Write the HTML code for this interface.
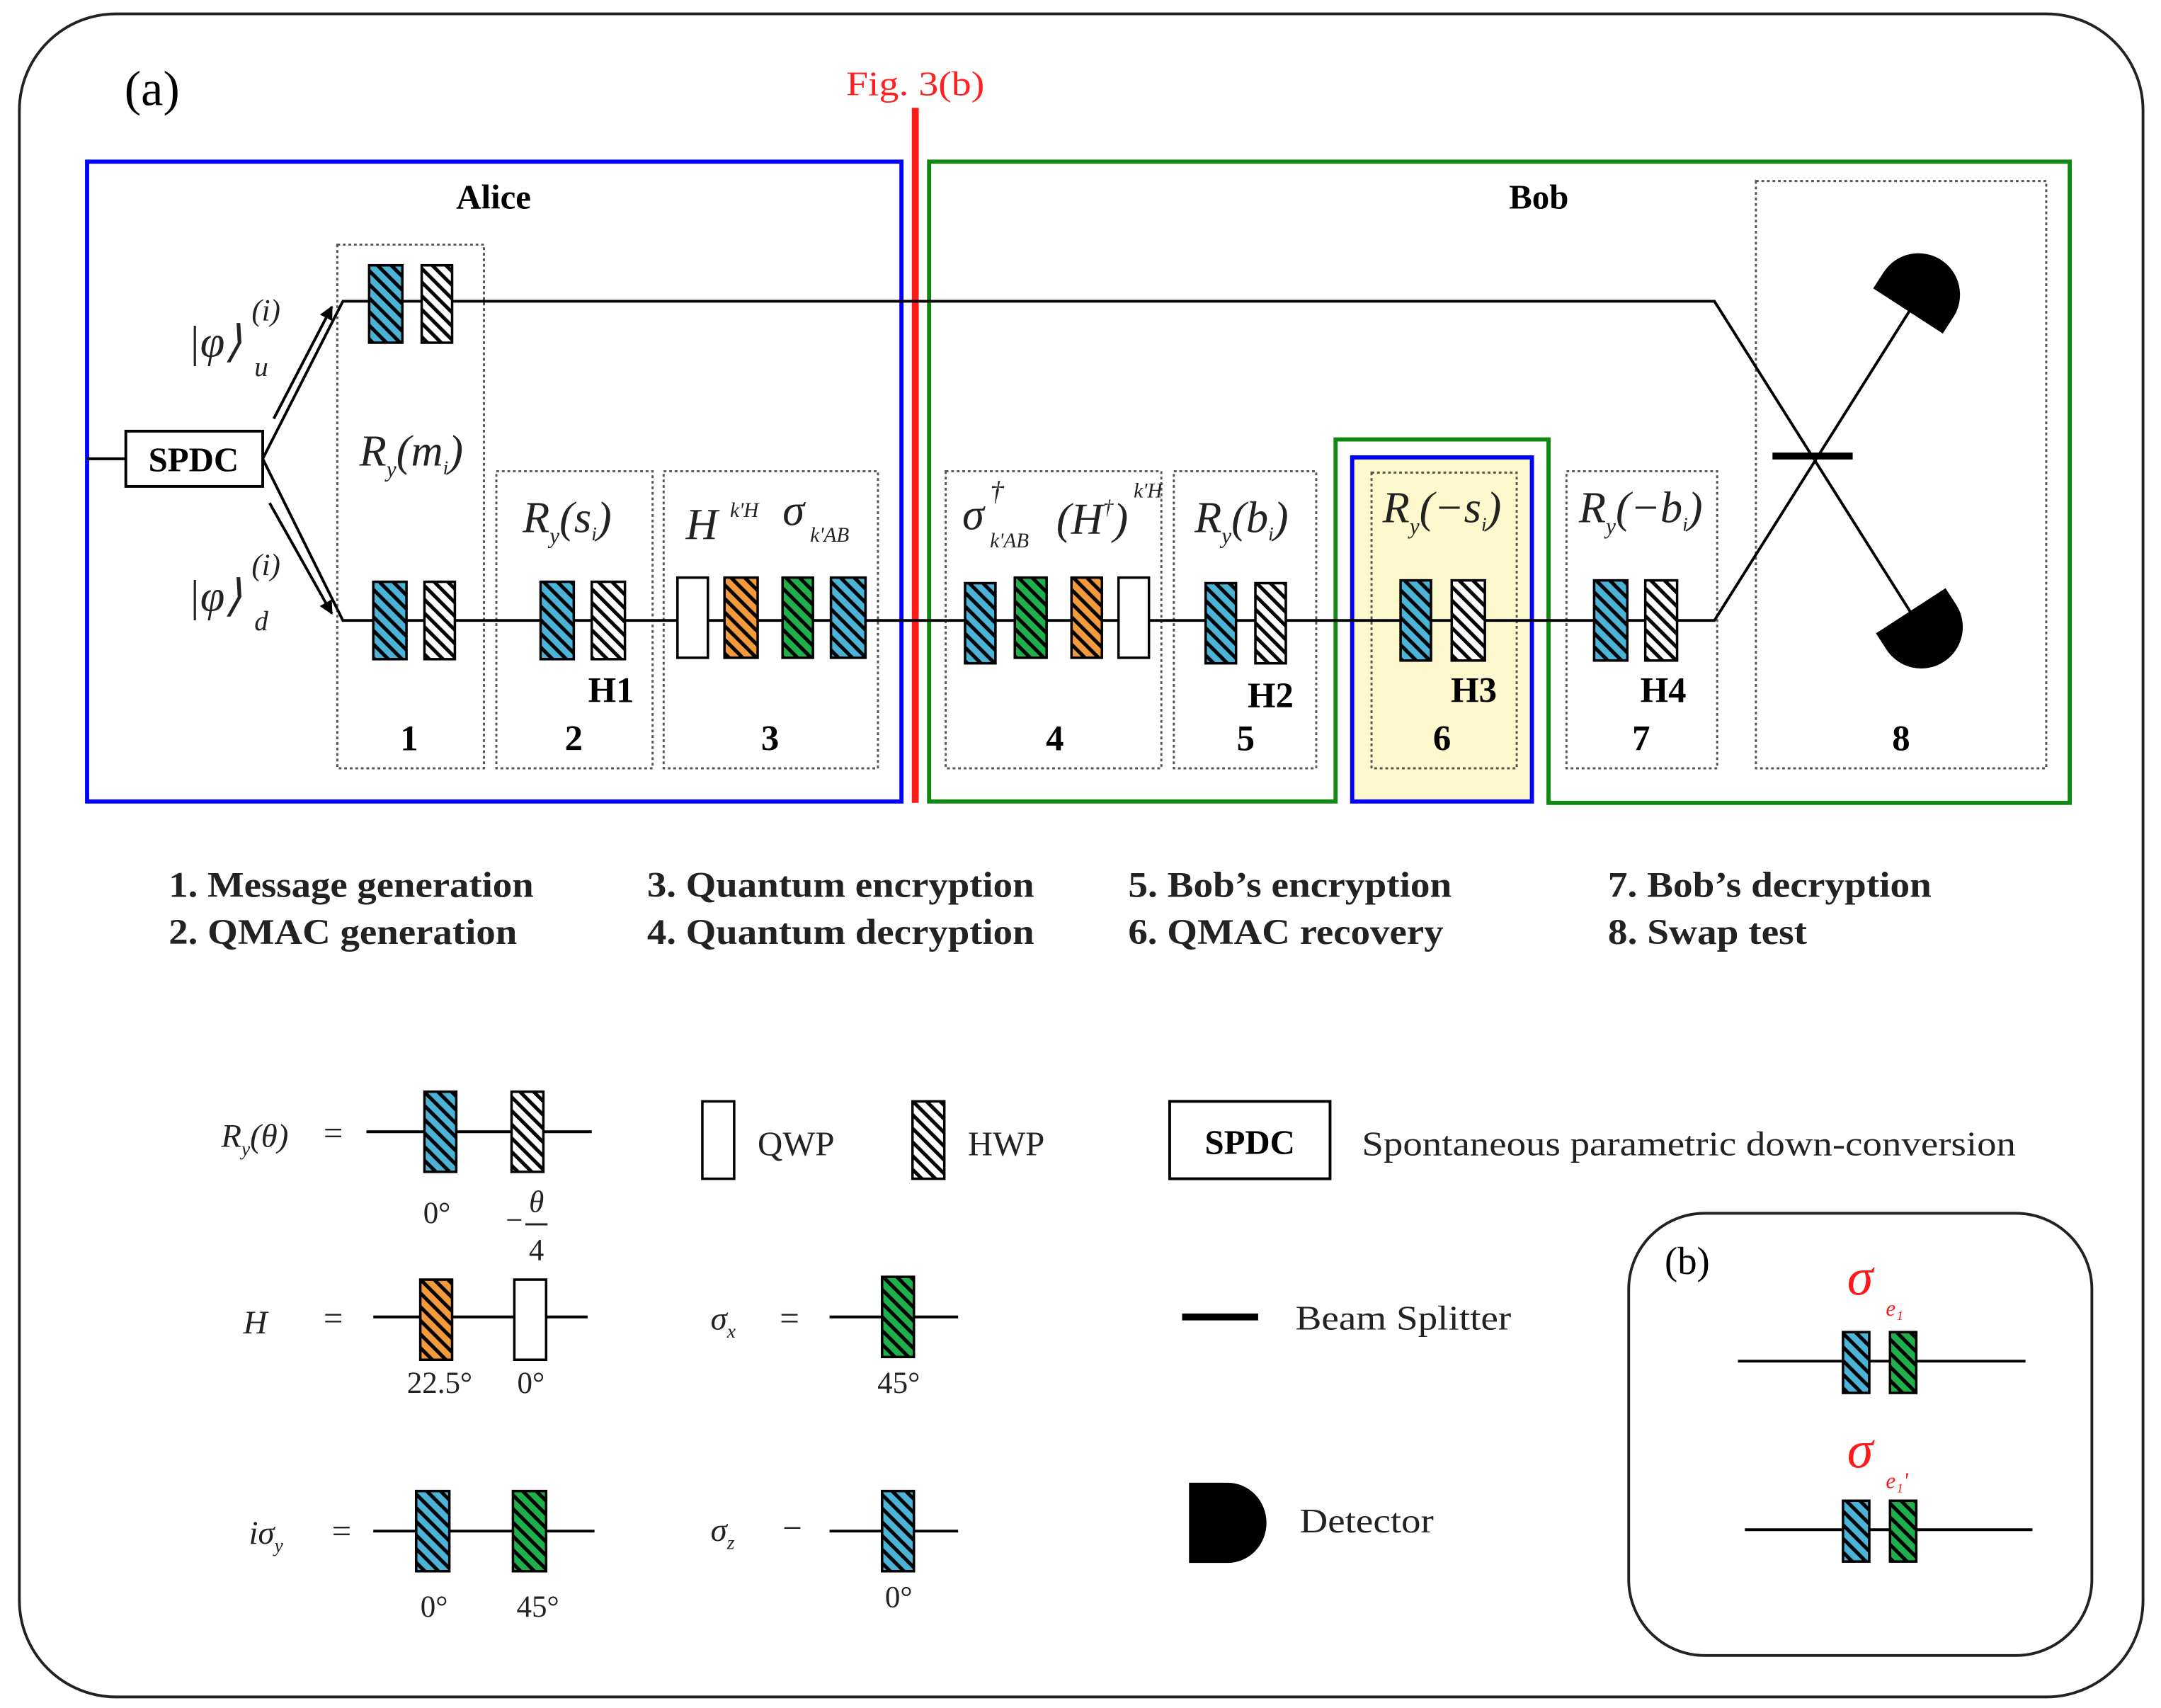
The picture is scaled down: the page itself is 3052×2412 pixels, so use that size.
<!DOCTYPE html>
<html><head><meta charset="utf-8"><style>
html,body{margin:0;padding:0;background:#fff}
svg{display:block}
text{font-family:"Liberation Serif",serif}
.b{font-weight:bold}
.i{font-style:italic}
</style></head><body>
<svg width="3052" height="2412" viewBox="0 0 1563 1236" preserveAspectRatio="none" xmlns="http://www.w3.org/2000/svg">
<defs>
<pattern id="pb" patternUnits="userSpaceOnUse" width="7" height="7" patternTransform="rotate(-45)"><rect width="7" height="7" fill="#4bb3d8"/><rect width="2.6" height="7" fill="#000"/></pattern>
<pattern id="pw" patternUnits="userSpaceOnUse" width="7" height="7" patternTransform="rotate(-45)"><rect width="7" height="7" fill="#fff"/><rect width="2.6" height="7" fill="#000"/></pattern>
<pattern id="pg" patternUnits="userSpaceOnUse" width="7" height="7" patternTransform="rotate(-45)"><rect width="7" height="7" fill="#1fb04c"/><rect width="2.6" height="7" fill="#000"/></pattern>
<pattern id="po" patternUnits="userSpaceOnUse" width="7" height="7" patternTransform="rotate(-45)"><rect width="7" height="7" fill="#f59a3c"/><rect width="2.6" height="7" fill="#000"/></pattern>
<marker id="ar" markerWidth="10" markerHeight="10" refX="9" refY="5" orient="auto" markerUnits="userSpaceOnUse"><path d="M0,0 L10,5 L0,10 z" fill="#000"/></marker>
</defs>

<rect x="14" y="10" width="1536" height="1218" rx="70" fill="none" stroke="#222" stroke-width="2"/>
<text x="90" y="76" font-size="36">(a)</text>

<rect x="978" y="331" width="130" height="249" fill="#fdf9cc" stroke="#0000ff" stroke-width="3"/>
<rect x="63" y="117" width="589" height="463" fill="none" stroke="#0000ff" stroke-width="3"/>
<path d="M672,117 H1497 V581 H1120 V318 H966 V580 H672 Z" fill="none" stroke="#118811" stroke-width="3"/>
<line x1="662" y1="78" x2="662" y2="581" stroke="#ff1a1a" stroke-width="5"/>
<text x="612" y="69" font-size="25" fill="#ff2020" textLength="100" lengthAdjust="spacingAndGlyphs">Fig. 3(b)</text>

<text x="357" y="151" font-size="25" class="b" text-anchor="middle">Alice</text>
<text x="1113" y="151" font-size="25" class="b" text-anchor="middle">Bob</text>

<g fill="none" stroke="#555" stroke-width="1.5" stroke-dasharray="2,2">
<rect x="244" y="177" width="106" height="379"/>
<rect x="359" y="341" width="113" height="215"/>
<rect x="480" y="341" width="155" height="215"/>
<rect x="684" y="341" width="156" height="215"/>
<rect x="849" y="341" width="103" height="215"/>
<rect x="992" y="342" width="105" height="214"/>
<rect x="1133" y="341" width="109" height="215"/>
<rect x="1270" y="131" width="210" height="425"/>
</g>

<g fill="none" stroke="#000" stroke-width="2">
<line x1="63" y1="332" x2="91" y2="332"/>
<polyline points="190,332 248,218 1240,218 1385,448"/>
<polyline points="190,332 248,449 1240,449 1383,222"/>
<line x1="198" y1="303" x2="240" y2="222" marker-end="url(#ar)"/>
<line x1="195" y1="364" x2="240" y2="444" marker-end="url(#ar)"/>
</g>
<rect x="91" y="312" width="99" height="40" fill="#fff" stroke="#000" stroke-width="2"/>
<text x="140" y="341" font-size="25" class="b" text-anchor="middle">SPDC</text>

<line x1="1282" y1="330" x2="1340" y2="330" stroke="#000" stroke-width="5"/>
<g fill="#000">
<path d="M0,-30 H14 A30,30 0 0 1 14,30 H0 Z" transform="translate(1380,225) rotate(-57)"/>
<path d="M0,-30 H14 A30,30 0 0 1 14,30 H0 Z" transform="translate(1382,442) rotate(57)"/>
</g>

<g stroke="#000" stroke-width="1.8">
<rect x="267" y="192" width="24" height="56" fill="url(#pb)"/>
<rect x="305" y="192" width="22" height="56" fill="url(#pw)"/>
<rect x="270" y="421" width="24" height="56" fill="url(#pb)"/>
<rect x="307" y="421" width="22" height="56" fill="url(#pw)"/>
<rect x="391" y="421" width="24" height="56" fill="url(#pb)"/>
<rect x="428" y="421" width="24" height="56" fill="url(#pw)"/>
<rect x="490" y="418" width="22" height="58" fill="#fff"/>
<rect x="524" y="418" width="24" height="58" fill="url(#po)"/>
<rect x="566" y="418" width="22" height="58" fill="url(#pg)"/>
<rect x="601" y="418" width="25" height="58" fill="url(#pb)"/>
<rect x="698" y="422" width="22" height="58" fill="url(#pb)"/>
<rect x="734" y="418" width="23" height="58" fill="url(#pg)"/>
<rect x="775" y="418" width="22" height="58" fill="url(#po)"/>
<rect x="809" y="418" width="22" height="58" fill="#fff"/>
<rect x="872" y="422" width="22" height="58" fill="url(#pb)"/>
<rect x="908" y="422" width="22" height="58" fill="url(#pw)"/>
<rect x="1013" y="420" width="22" height="58" fill="url(#pb)"/>
<rect x="1050" y="420" width="24" height="58" fill="url(#pw)"/>
<rect x="1153" y="420" width="24" height="58" fill="url(#pb)"/>
<rect x="1190" y="420" width="23" height="58" fill="url(#pw)"/>
</g>

<g font-size="26" class="b" text-anchor="middle">
<text x="296" y="543">1</text><text x="415" y="543">2</text><text x="557" y="543">3</text>
<text x="763" y="543">4</text><text x="901" y="543">5</text><text x="1043" y="543">6</text>
<text x="1187" y="543">7</text><text x="1375" y="543">8</text>
<text x="442" y="508">H1</text><text x="919" y="512">H2</text><text x="1066" y="508">H3</text><text x="1203" y="508">H4</text>
</g>

<g font-size="32" class="i" fill="#222">
<text x="136" y="258">|φ⟩</text><text x="182" y="232" font-size="22">(i)</text><text x="184" y="272" font-size="20">u</text>
<text x="136" y="442">|φ⟩</text><text x="182" y="416" font-size="22">(i)</text><text x="184" y="456" font-size="20">d</text>
<text x="260" y="337">R<tspan font-size="16" dy="8">y</tspan><tspan dy="-8">(m</tspan><tspan font-size="14" dy="6">i</tspan><tspan dy="-6">)</tspan></text>
<text x="378" y="385">R<tspan font-size="16" dy="8">y</tspan><tspan dy="-8">(s</tspan><tspan font-size="14" dy="6">i</tspan><tspan dy="-6">)</tspan></text>
<text x="496" y="390">H</text><text x="528" y="374" font-size="15">k'H</text>
<text x="566" y="380">σ</text><text x="586" y="392" font-size="15">k'AB</text>
<text x="696" y="383">σ</text><text x="716" y="362" font-size="20">†</text><text x="716" y="396" font-size="15">k'AB</text>
<text x="764" y="386">(H<tspan font-size="15" dy="-14">†</tspan><tspan dy="14">)</tspan></text><text x="820" y="360" font-size="15">k'H</text>
<text x="864" y="385">R<tspan font-size="16" dy="8">y</tspan><tspan dy="-8">(b</tspan><tspan font-size="14" dy="6">i</tspan><tspan dy="-6">)</tspan></text>
<text x="1000" y="378">R<tspan font-size="16" dy="8">y</tspan><tspan dy="-8">(−s</tspan><tspan font-size="14" dy="6">i</tspan><tspan dy="-6">)</tspan></text>
<text x="1142" y="378">R<tspan font-size="16" dy="8">y</tspan><tspan dy="-8">(−b</tspan><tspan font-size="14" dy="6">i</tspan><tspan dy="-6">)</tspan></text>
</g>

<g font-size="26" class="b" fill="#222" lengthAdjust="spacingAndGlyphs">
<text x="122" y="649" textLength="264" lengthAdjust="spacingAndGlyphs">1. Message generation</text>
<text x="122" y="683" textLength="252" lengthAdjust="spacingAndGlyphs">2. QMAC generation</text>
<text x="468" y="649" textLength="280" lengthAdjust="spacingAndGlyphs">3. Quantum encryption</text>
<text x="468" y="683" textLength="280" lengthAdjust="spacingAndGlyphs">4. Quantum decryption</text>
<text x="816" y="649" textLength="234" lengthAdjust="spacingAndGlyphs">5. Bob’s encryption</text>
<text x="816" y="683" textLength="228" lengthAdjust="spacingAndGlyphs">6. QMAC recovery</text>
<text x="1163" y="649" textLength="234" lengthAdjust="spacingAndGlyphs">7. Bob’s decryption</text>
<text x="1163" y="683" textLength="144" lengthAdjust="spacingAndGlyphs">8. Swap test</text>
</g>

<g stroke="#000" stroke-width="2">
<line x1="265" y1="819" x2="428" y2="819"/>
<line x1="270" y1="953" x2="425" y2="953"/>
<line x1="600" y1="953" x2="693" y2="953"/>
<line x1="270" y1="1108" x2="430" y2="1108"/>
<line x1="600" y1="1108" x2="693" y2="1108"/>
<line x1="1257" y1="985" x2="1465" y2="985"/>
<line x1="1262" y1="1107" x2="1470" y2="1107"/>
</g>
<line x1="855" y1="953" x2="910" y2="953" stroke="#000" stroke-width="5"/>
<g stroke="#000" stroke-width="1.8">
<rect x="307" y="790" width="23" height="58" fill="url(#pb)"/>
<rect x="370" y="790" width="23" height="58" fill="url(#pw)"/>
<rect x="508" y="797" width="23" height="56" fill="#fff"/>
<rect x="660" y="797" width="23" height="56" fill="url(#pw)"/>
<rect x="304" y="926" width="23" height="58" fill="url(#po)"/>
<rect x="372" y="926" width="23" height="58" fill="#fff"/>
<rect x="638" y="924" width="23" height="58" fill="url(#pg)"/>
<rect x="301" y="1079" width="24" height="58" fill="url(#pb)"/>
<rect x="371" y="1079" width="24" height="58" fill="url(#pg)"/>
<rect x="638" y="1079" width="23" height="58" fill="url(#pb)"/>
<rect x="1333" y="964" width="19" height="44" fill="url(#pb)"/>
<rect x="1367" y="964" width="19" height="44" fill="url(#pg)"/>
<rect x="1333" y="1086" width="19" height="44" fill="url(#pb)"/>
<rect x="1367" y="1086" width="19" height="44" fill="url(#pg)"/>
</g>
<rect x="846" y="797" width="116" height="56" fill="#fff" stroke="#000" stroke-width="2"/>
<text x="904" y="835" font-size="25" class="b" text-anchor="middle">SPDC</text>
<path d="M860,1073 H888 A28,29 0 0 1 888,1131 H860 Z" fill="#000"/>

<g font-size="25" fill="#222">
<text x="548" y="836">QWP</text><text x="700" y="836">HWP</text>
<text x="985" y="836" textLength="473" lengthAdjust="spacingAndGlyphs">Spontaneous  parametric  down-conversion</text>
<text x="937" y="962" textLength="156" lengthAdjust="spacingAndGlyphs">Beam Splitter</text>
<text x="940" y="1109" textLength="97" lengthAdjust="spacingAndGlyphs">Detector</text>
<text x="234" y="828">=</text><text x="234" y="962">=</text><text x="564" y="962">=</text><text x="240" y="1116">=</text><text x="566" y="1114">−</text>
</g>
<g font-size="22" fill="#222" text-anchor="middle">
<text x="316" y="885">0°</text>
<text x="388" y="877" class="i">θ</text><line x1="380" y1="886" x2="396" y2="886" stroke="#222" stroke-width="1.5"/><text x="372" y="890">−</text><text x="388" y="912">4</text>
<text x="318" y="1008">22.5°</text><text x="384" y="1008">0°</text><text x="650" y="1008">45°</text>
<text x="314" y="1170">0°</text><text x="389" y="1170">45°</text><text x="650" y="1163">0°</text>
</g>
<g font-size="24" class="i" fill="#222">
<text x="160" y="830">R<tspan font-size="14" dy="6">y</tspan><tspan dy="-6">(θ)</tspan></text>
<text x="176" y="965">H</text>
<text x="514" y="962">σ<tspan font-size="14" dy="6">x</tspan></text>
<text x="180" y="1117">iσ<tspan font-size="14" dy="6">y</tspan></text>
<text x="514" y="1115">σ<tspan font-size="14" dy="6">z</tspan></text>
</g>

<rect x="1178" y="878" width="335" height="320" rx="55" fill="none" stroke="#222" stroke-width="2"/>
<text x="1204" y="922" font-size="28">(b)</text>
<text x="1336" y="937" font-size="38" class="i" fill="#ff1a1a">σ</text><text x="1364" y="952" font-size="16" class="i" fill="#ff1a1a">e₁</text>
<text x="1336" y="1062" font-size="38" class="i" fill="#ff1a1a">σ</text><text x="1364" y="1077" font-size="16" class="i" fill="#ff1a1a">e₁'</text>
</svg>
</body></html>
